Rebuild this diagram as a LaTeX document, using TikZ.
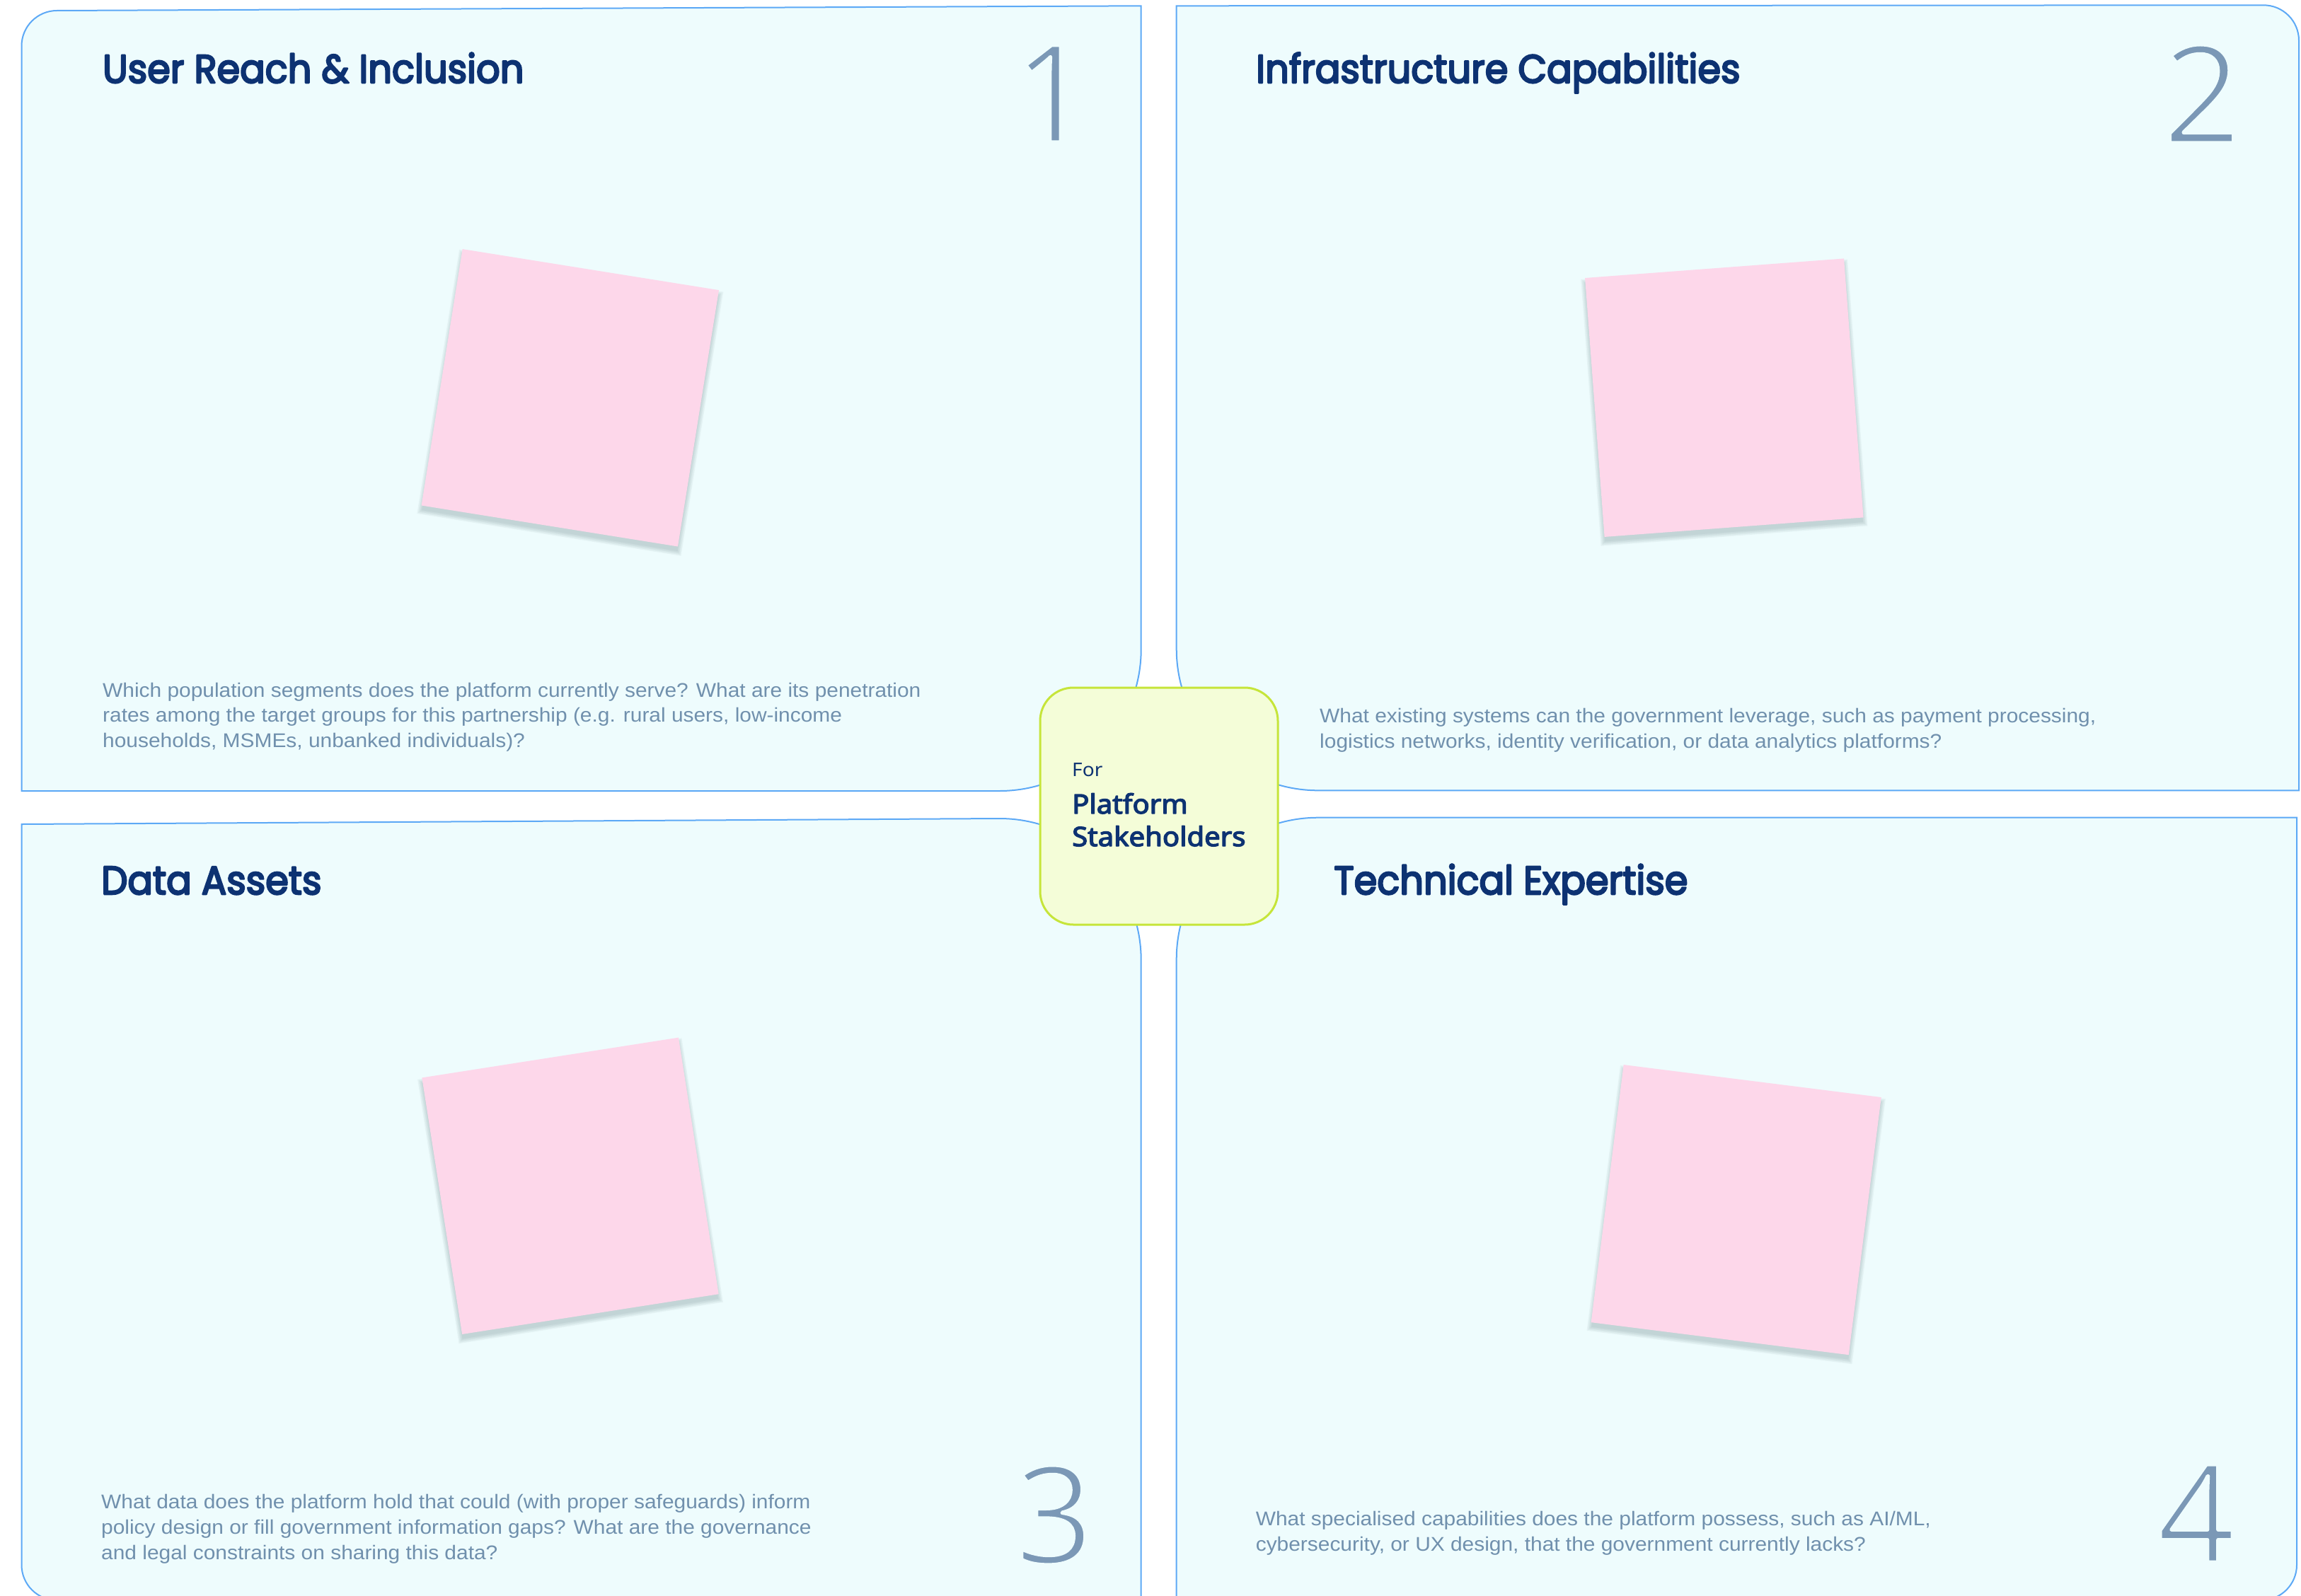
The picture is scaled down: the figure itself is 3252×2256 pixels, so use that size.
\documentclass[tikz,border=0pt]{standalone}
\usepackage{fontspec}
\setmainfont{Liberation Sans}
\newfontfamily\titlefont{Poppins}
\newfontfamily\numfont{Open Sans}
\newfontfamily\boxfont{Noto Sans}
\definecolor{panelfill}{HTML}{EEFCFD}
\definecolor{panelline}{HTML}{5DA9F6}
\definecolor{navy}{HTML}{0D3272}
\definecolor{descc}{HTML}{7090AD}
\definecolor{numc}{HTML}{7B98B6}
\definecolor{boxfill}{HTML}{F4FDD8}
\definecolor{boxline}{HTML}{C6E53A}
\definecolor{stickyc}{HTML}{FDD7EA}
\definecolor{shadowc}{HTML}{4F6B70}
% thin strokes: erode glyphs with a stroke in the panel colour
\newcommand{\thinglyph}[1]{\special{pdf:literal direct 2 Tr 1 j 5 w 0.933 0.988 0.992 RG}#1\special{pdf:literal direct 0 Tr}}
% heavier strokes: stroke glyphs in their own colour
\newcommand{\heavyglyph}[2]{\special{pdf:literal direct 2 Tr 1 j #1 w}#2\special{pdf:literal direct 0 Tr}}
\tikzset{
  panel/.style={fill=panelfill, draw=panelline, line width=2pt},
  stickynote/.style={fill=stickyc, minimum width=367, minimum height=367, inner sep=0, outer sep=0},
  shadowlayer/.style={fill=shadowc, opacity=0.06, inner sep=0, outer sep=0},
  desc/.style={text=descc, font=\fontsize{28}{35.8}\selectfont, inner sep=0, anchor=base west, transform shape, xscale=1.068},
  title/.style={text=navy, font=\titlefont\fontsize{56}{60}\selectfont, inner sep=0, anchor=base west, transform shape, xscale=0.94},
  num/.style={text=numc, font=\numfont\fontsize{192}{195}\selectfont, inner sep=0, anchor=base},
  boxtext/.style={text=navy, inner sep=0, anchor=base west, transform shape, xscale=1.06},
  cbox/.style={fill=boxfill, draw=boxline, line width=3pt, rounded corners=47, minimum width=336, minimum height=335, inner sep=0},
}
\newcommand{\stickywithshadow}[4]{% name, x, y, angle
  \foreach \k in {0,1,2,3,4}{
    \node[shadowlayer, rotate=#4, minimum width=366+3*\k, minimum height=366+3*\k] (#1sh\k) at (#2,#3+7) {};
  }
  \node[stickynote, rotate=#4] (#1) at (#2,#3) {};
}
\begin{document}
\begin{tikzpicture}[x=1pt,y=-1pt]
\useasboundingbox (0,0) rectangle (3252,2256);
\fill[white] (0,0) rectangle (3252,2256);

% panels
\path[panel] (30.5,1118) -- (30.5,65) arc[start angle=180,end angle=270,radius=50]
  -- (1612.7,8.3) -- (1612.7,918) arc[start angle=0,end angle=90,radius=200] -- cycle;
\path[panel] (1862.7,1117.3) arc[start angle=90,end angle=180,radius=200]
  -- (1662.7,8.3) -- (3199,7.3) arc[start angle=270,end angle=360,radius=50]
  -- (3249,1117.3) -- cycle;
\path[panel] (30.5,1165) -- (1412.7,1157) arc[start angle=270,end angle=360,radius=200]
  -- (1612.7,2262) -- (80.5,2262) arc[start angle=90,end angle=180,radius=50] -- cycle;
\path[panel] (1662.7,1355.7) arc[start angle=180,end angle=270,radius=200]
  -- (3246,1155.7) -- (3246,2212) arc[start angle=0,end angle=90,radius=50]
  -- (1662.7,2262) -- cycle;

% sticky notes
\stickywithshadow{s1}{805.8}{562.3}{-9.1}
\stickywithshadow{s2}{2436.8}{562.2}{4.3}
\stickywithshadow{s3}{806}{1676.3}{8.9}
\stickywithshadow{s4}{2453.7}{1710.1}{-7.2}

% titles
\node[title] (t1) at (145,117) {\heavyglyph{2.5}{User Reach \& Inclusion}};
\node[title] (t2) at (1775,117) {\heavyglyph{2.5}{Infrastructure Capabilities}};
\node[title] (t3) at (143,1264) {\heavyglyph{2.5}{Data Assets}};
\node[title] (t4) at (1885,1264) {\heavyglyph{2.5}{Technical Expertise}};

% numbers
\node[num] (n1) at (1487,201) {\thinglyph{1}};
\node[num] (n2) at (3112,202) {\thinglyph{2}};
\node[num] (n3) at (1490,2210) {\thinglyph{3}};
\node[num] (n4) at (3104,2208) {\thinglyph{4}};

% descriptions
\node[desc] (d1) at (145,985) {\vtop{%
  \hbox{Which population segments does the platform currently serve? What are its penetration}
  \hbox{rates among the target groups for this partnership (e.g. rural users, low-income}
  \hbox{households, MSMEs, unbanked individuals)?}}};
\node[desc] (d2) at (1865,1021.7) {\vtop{%
  \hbox{What existing systems can the government leverage, such as payment processing,}
  \hbox{logistics networks, identity verification, or data analytics platforms?}}};
\node[desc] (d3) at (143,2132.7) {\vtop{%
  \hbox{What data does the platform hold that could (with proper safeguards) inform}
  \hbox{policy design or fill government information gaps? What are the governance}
  \hbox{and legal constraints on sharing this data?}}};
\node[desc] (d4) at (1774.6,2156.7) {\vtop{%
  \hbox{What specialised capabilities does the platform possess, such as AI/ML,}
  \hbox{cybersecurity, or UX design, that the government currently lacks?}}};

% centre box
\node[cbox] (c) at (1638,1139.5) {};
\node[boxtext, font=\boxfont\fontsize{26.5}{30}\selectfont] (cfor) at (1515,1097) {For};
\node[boxtext, font=\boxfont\fontsize{37.8}{46}\selectfont] (cplat) at (1515,1150) {\heavyglyph{1.3}{Platform}};
\node[boxtext, font=\boxfont\fontsize{37.8}{46}\selectfont] (cstake) at (1515,1196) {\heavyglyph{1.3}{Stakeholders}};
\end{tikzpicture}
\end{document}
